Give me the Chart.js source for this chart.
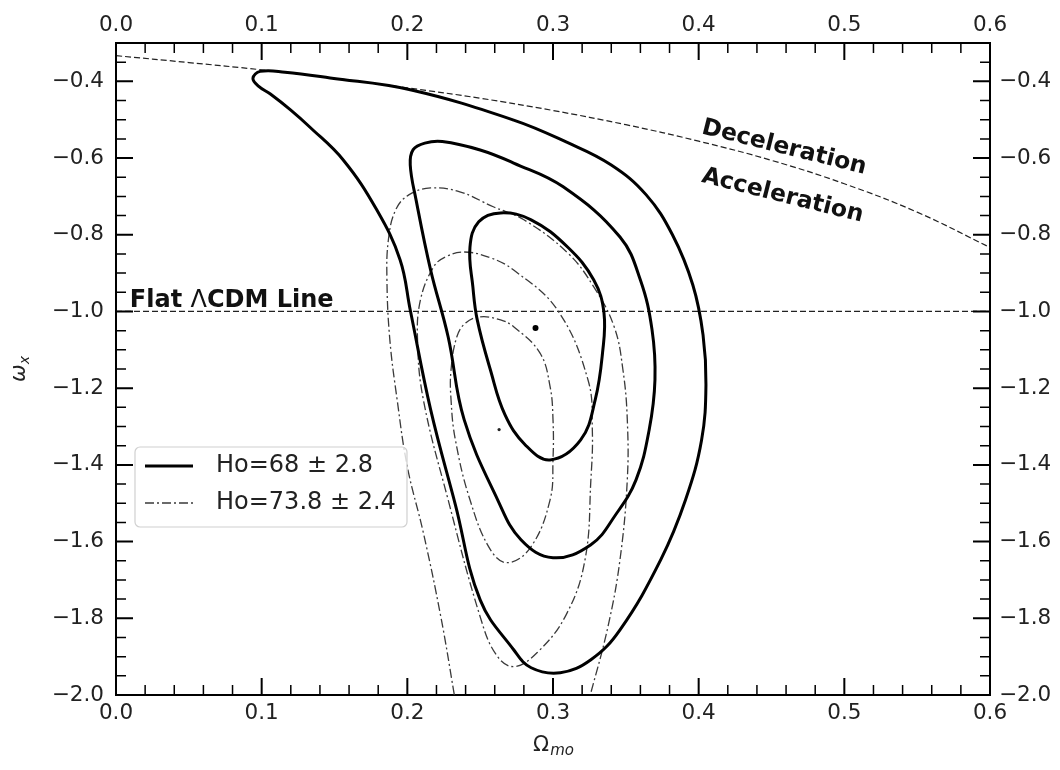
<!DOCTYPE html>
<html>
<head>
<meta charset="utf-8">
<script src="https://cdn.jsdelivr.net/npm/chart.js@4.4.1/dist/chart.umd.min.js"></script>
<style>
  html, body { margin: 0; padding: 0; background: #fff; }
</style>
</head>
<body>
<canvas id="contours" width="1060" height="770"></canvas>
<script>
// axis ticks
const xTicks = [0.0, 0.1, 0.2, 0.3, 0.4, 0.5, 0.6];
const yTicks = [-2.0, -1.8, -1.6, -1.4, -1.2, -1.0, -0.8, -0.6, -0.4];
const legendLabels = ['Ho=68 \u00b1 2.8', 'Ho=73.8 \u00b1 2.4'];

// Ho=68 confidence contours, [Omega_mo, w_x]
const h68Inner = [[0.264,-0.743],[0.285,-0.761],[0.310,-0.832],[0.328,-0.918],[0.335,-1.004],[0.334,-1.108],
  [0.329,-1.230],[0.319,-1.335],[0.298,-1.387],[0.281,-1.348],[0.267,-1.269],[0.257,-1.152],[0.248,-1.022],
  [0.245,-0.936],[0.243,-0.832],[0.249,-0.766]];
const h68Mid = [[0.224,-0.557],[0.250,-0.579],[0.273,-0.613],[0.307,-0.675],[0.346,-0.806],[0.360,-0.918],
  [0.368,-1.048],[0.370,-1.178],[0.366,-1.309],[0.357,-1.439],[0.343,-1.530],[0.326,-1.608],[0.300,-1.642],
  [0.278,-1.595],[0.262,-1.491],[0.239,-1.282],[0.228,-1.066],[0.216,-0.892],[0.206,-0.709],[0.202,-0.618],
  [0.204,-0.578],[0.212,-0.561]];
const h68Outer = [[0.094,-0.392],[0.099,-0.374],[0.116,-0.376],[0.147,-0.391],[0.202,-0.422],[0.273,-0.501],
  [0.309,-0.558],[0.340,-0.618],[0.364,-0.696],[0.382,-0.800],[0.396,-0.931],[0.403,-1.061],[0.405,-1.191],
  [0.402,-1.335],[0.391,-1.491],[0.374,-1.647],[0.346,-1.830],[0.326,-1.908],[0.305,-1.942],[0.285,-1.929],
  [0.273,-1.882],[0.250,-1.752],[0.233,-1.504],[0.216,-1.256],[0.202,-0.996],[0.195,-0.865],[0.179,-0.735],
  [0.156,-0.605],[0.133,-0.519],[0.120,-0.475],[0.106,-0.433],[0.098,-0.413]];

// Ho=73.8 confidence contours
const h73Inner = [[0.250,-1.014],[0.264,-1.022],[0.273,-1.040],[0.291,-1.108],[0.298,-1.196],[0.300,-1.282],
  [0.300,-1.387],[0.298,-1.491],[0.285,-1.613],[0.269,-1.655],[0.257,-1.621],[0.243,-1.491],[0.233,-1.335],
  [0.230,-1.230],[0.230,-1.152],[0.234,-1.066],[0.240,-1.030]];
const h73Mid = [[0.239,-0.845],[0.257,-0.860],[0.273,-0.892],[0.303,-0.996],[0.324,-1.178],[0.327,-1.309],
  [0.326,-1.439],[0.322,-1.647],[0.309,-1.791],[0.289,-1.890],[0.273,-1.926],[0.261,-1.895],[0.250,-1.796],
  [0.228,-1.491],[0.211,-1.230],[0.207,-1.074],[0.209,-0.970],[0.218,-0.884],[0.226,-0.858]];
const h73Outer = [[0.234,-2.043],[0.232,-1.994],[0.223,-1.796],[0.211,-1.577],[0.200,-1.405],[0.193,-1.230],
  [0.188,-1.074],[0.186,-0.918],[0.187,-0.813],[0.192,-0.735],[0.201,-0.696],[0.216,-0.678],[0.236,-0.688],
  [0.259,-0.727],[0.280,-0.761],[0.310,-0.847],[0.328,-0.936],[0.342,-1.040],[0.348,-1.152],[0.351,-1.282],
  [0.351,-1.439],[0.346,-1.647],[0.338,-1.817],[0.326,-1.994],[0.322,-2.043]];

const bestFit68 = [0.288, -1.043];
const bestFit73 = [0.263, -1.308];

// q = 0 boundary and flat LCDM line
const decelOmega = [0, 0.05, 0.1, 0.15, 0.2, 0.25, 0.3, 0.35, 0.4, 0.45, 0.5, 0.55, 0.6];
const decelW = [-0.333, -0.351, -0.370, -0.392, -0.417, -0.444, -0.476, -0.513, -0.556, -0.606, -0.667, -0.741, -0.833];
const lcdmOmega = [0, 0.6];
const lcdmW = [-1.0, -1.0];

const FONT = '"DejaVu Sans", "Liberation Sans", sans-serif';

function toXY(pts) { return pts.map(p => ({x: p[0], y: p[1]})); }

// closed curve: wrap the ends so the spline is smooth all round, hide the two helper segments
function contour(pts, closed, style) {
  let data = toXY(pts);
  if (closed) data = [data[data.length - 1]].concat(data, [data[0], data[1]]);
  const last = data.length - 1;
  const ds = Object.assign({data: data, showLine: true, pointRadius: 0, pointHoverRadius: 0,
    tension: 0.4, fill: false}, style);
  if (closed) {
    ds.segment = {borderColor: ctx => (ctx.p0DataIndex === 0 || ctx.p1DataIndex === last) ? 'rgba(0,0,0,0)' : undefined};
  }
  return ds;
}

const solid = {borderColor: '#000', borderWidth: 3};
const dashDot = {borderColor: '#3a3a3a', borderWidth: 1.3, borderDash: [9, 3, 2, 3]};
const dashed = {borderColor: '#222', borderWidth: 1.2, borderDash: [6, 3], tension: 0.4};

const fmt = v => (v < 0 ? '\u2212' : '') + Math.abs(v).toFixed(1);

function axis(pos, vals, size, extra) {
  return Object.assign({
    type: 'linear', position: pos,
    grid: {display: false, drawTicks: false},
    border: {display: true, color: '#000', width: 2},
    afterBuildTicks: s => { s.ticks = vals.map(v => ({value: v})); },
    afterFit: s => { if (pos === 'left' || pos === 'right') s.width = size; else s.height = size; }
  }, extra);
}

const inwardTicks = {
  id: 'inwardTicks',
  afterDraw(chart) {
    const {ctx, chartArea: a, scales} = chart;
    ctx.save();
    ctx.strokeStyle = '#000';
    for (let i = 0; i <= 30; i++) {
      const px = scales.x.getPixelForValue(i * 0.02);
      const major = i % 5 === 0;
      const len = major ? 17 : 10;
      ctx.lineWidth = major ? 2 : 1.5;
      ctx.beginPath();
      ctx.moveTo(px, a.bottom); ctx.lineTo(px, a.bottom - len);
      ctx.moveTo(px, a.top); ctx.lineTo(px, a.top + len);
      ctx.stroke();
    }
    for (let i = 0; i <= 34; i++) {
      const py = scales.y.getPixelForValue(-2 + i * 0.05);
      const major = i % 4 === 0;
      const len = major ? 17 : 10;
      ctx.lineWidth = major ? 2 : 1.5;
      ctx.beginPath();
      ctx.moveTo(a.left, py); ctx.lineTo(a.left + len, py);
      ctx.moveTo(a.right, py); ctx.lineTo(a.right - len, py);
      ctx.stroke();
    }
    ctx.restore();
  }
};

const notes = {
  id: 'notes',
  afterDatasetsDraw(chart) {
    const {ctx, chartArea: a, scales: {x, y}} = chart;
    ctx.save();
    ctx.fillStyle = '#111';
    ctx.textBaseline = 'alphabetic';
    ctx.textAlign = 'left';

    // Flat LCDM label, Lambda in regular weight as in mathtext
    let px = x.getPixelForValue(0.0095);
    const py = y.getPixelForValue(-1.0) - 4;
    const parts = [['bold', 'Flat '], ['normal', '\u039b'], ['bold', 'CDM Line']];
    parts.forEach(p => {
      ctx.font = p[0] + ' 24px ' + FONT;
      ctx.fillText(p[1], px, py);
      px += ctx.measureText(p[1]).width;
    });

    // regions either side of q = 0
    ctx.font = 'bold 23.5px ' + FONT;
    [['Deceleration', 0.4014, -0.535], ['Acceleration', 0.4014, -0.662]].forEach(t => {
      ctx.save();
      ctx.translate(x.getPixelForValue(t[1]), y.getPixelForValue(t[2]));
      ctx.rotate(14 * Math.PI / 180);
      ctx.fillText(t[0], 0, 0);
      ctx.restore();
    });

    // legend box
    const bx = a.left + 19, by = a.top + 404, bw = 272, bh = 80;
    ctx.beginPath();
    ctx.roundRect(bx, by, bw, bh, 5);
    ctx.fillStyle = 'rgba(255,255,255,0.8)';
    ctx.fill();
    ctx.strokeStyle = '#d0d0d0';
    ctx.lineWidth = 1.2;
    ctx.stroke();
    const styles = [solid, dashDot];
    legendLabels.forEach((lab, i) => {
      const ly = by + 19 + i * 37;
      ctx.beginPath();
      ctx.strokeStyle = styles[i].borderColor;
      ctx.lineWidth = styles[i].borderWidth;
      ctx.setLineDash(styles[i].borderDash || []);
      ctx.moveTo(bx + 10, ly); ctx.lineTo(bx + 58, ly);
      ctx.stroke();
      ctx.setLineDash([]);
      ctx.fillStyle = '#222';
      ctx.font = '24px ' + FONT;
      ctx.textBaseline = 'middle';
      ctx.fillText(lab, bx + 81, ly);
    });

    // axis titles
    ctx.fillStyle = '#222';
    ctx.textBaseline = 'alphabetic';
    ctx.font = '21px ' + FONT;
    const w1 = ctx.measureText('\u03a9').width;
    ctx.font = 'italic 15px ' + FONT;
    const w2 = ctx.measureText('mo').width;
    const sx = (a.left + a.right) / 2 - (w1 + w2) / 2;
    ctx.font = '21px ' + FONT;
    ctx.fillText('\u03a9', sx, a.bottom + 56);
    ctx.font = 'italic 15px ' + FONT;
    ctx.fillText('mo', sx + w1 + 1, a.bottom + 60);

    ctx.save();
    ctx.translate(25, (a.top + a.bottom) / 2);
    ctx.rotate(-Math.PI / 2);
    ctx.font = 'italic 21px ' + FONT;
    const w3 = ctx.measureText('\u03c9').width;
    ctx.font = 'italic 14px ' + FONT;
    const w4 = ctx.measureText('x').width;
    ctx.font = 'italic 21px ' + FONT;
    ctx.fillText('\u03c9', -(w3 + w4) / 2, 0);
    ctx.font = 'italic 14px ' + FONT;
    ctx.fillText('x', -(w3 + w4) / 2 + w3, 4);
    ctx.restore();

    ctx.restore();
  }
};

const datasets = [
  {data: [{x: bestFit68[0], y: bestFit68[1]}], pointRadius: 3, backgroundColor: '#000', borderWidth: 0},
  {data: [{x: bestFit73[0], y: bestFit73[1]}], pointRadius: 1.6, backgroundColor: '#222', borderWidth: 0},
  contour(h68Inner, true, solid),
  contour(h68Mid, true, solid),
  contour(h68Outer, true, solid),
  contour(h73Inner, true, dashDot),
  contour(h73Mid, true, dashDot),
  contour(h73Outer, false, dashDot),
  contour(decelOmega.map((o, i) => [o, decelW[i]]), false, dashed),
  contour(lcdmOmega.map((o, i) => [o, lcdmW[i]]), false, Object.assign({}, dashed, {tension: 0}))
];

const tickFont = {family: FONT, size: 21.5};

new Chart(document.getElementById('contours'), {
  type: 'scatter',
  data: {datasets: datasets},
  options: {
    responsive: false,
    animation: false,
    devicePixelRatio: 1,
    layout: {padding: 0},
    plugins: {legend: {display: false}, tooltip: {enabled: false}},
    scales: {
      x: axis('bottom', xTicks, 75, {min: 0, max: 0.6, ticks: {callback: fmt, color: '#222', padding: 6, font: tickFont}}),
      x2: axis('top', xTicks, 43, {min: 0, max: 0.6, ticks: {callback: fmt, color: '#222', padding: 5, font: tickFont}}),
      y: axis('left', yTicks, 116, {min: -2.0, max: -0.3, ticks: {callback: fmt, color: '#222', padding: 12, font: tickFont}}),
      y2: axis('right', yTicks, 70, {min: -2.0, max: -0.3, ticks: {callback: fmt, color: '#222', padding: 9, font: tickFont}})
    }
  },
  plugins: [inwardTicks, notes]
});
</script>
</body>
</html>
